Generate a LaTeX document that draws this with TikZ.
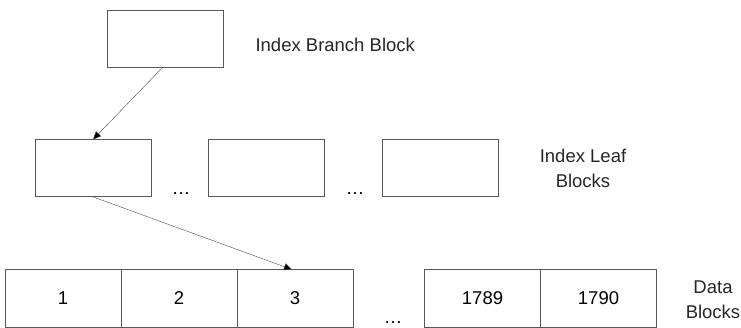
\documentclass[tikz,border=0pt]{standalone}
\usepackage{fontspec}
\setmainfont{Liberation Sans}
\usetikzlibrary{arrows.meta, positioning}

\begin{document}
\begin{tikzpicture}[
    x=1pt, y=-1pt,
    font=\fontsize{18.5}{25}\selectfont,
    blk/.style={draw=black!65, rectangle, minimum width=116pt,
      minimum height=57pt, inner sep=0pt, outer sep=0pt},
    cell/.style={blk, minimum height=58pt},
    arrow/.style={draw=black!70, -{Triangle[length=8pt,width=7pt,fill=black]}},
    lbl/.style={align=center, text=black!85}
]
\useasboundingbox (0,0) rectangle (741,328);
% index branch level
\node[blk] (branch) at (165,38.5) {};
\node[lbl, anchor=west] (branchlbl) at (252,45) {Index Branch Block};
% index leaf level
\node[blk] (leafA) at (93,168) {};
\node[blk] (leafB) at (266,168) {};
\node[blk] (leafC) at (440,168) {};
\node (dotsA) at (181,194) {\dots};
\node (dotsB) at (355,194) {\dots};
\node[lbl] (leaflbl) at (583,168) {Index Leaf\\Blocks};
% data blocks
\node[cell] (data1) at (63,298.5) {1};
\node[cell, right=0pt of data1] (data2) {2};
\node[cell, right=0pt of data2] (data3) {3};
\node (dotsC) at (393,323) {\dots};
\node[cell] (data1789) at (482.5,298.5) {1789};
\node[cell, right=0pt of data1789] (data1790) {1790};
\node[lbl] (datalbl) at (713,300) {Data\\Blocks};
% pointers
\draw[arrow] ([xshift=-2pt]branch.south) -- (leafA.north);
\draw[arrow] ([xshift=-1pt]leafA.south) -- ([xshift=-3pt]data3.north);
\end{tikzpicture}
\end{document}
